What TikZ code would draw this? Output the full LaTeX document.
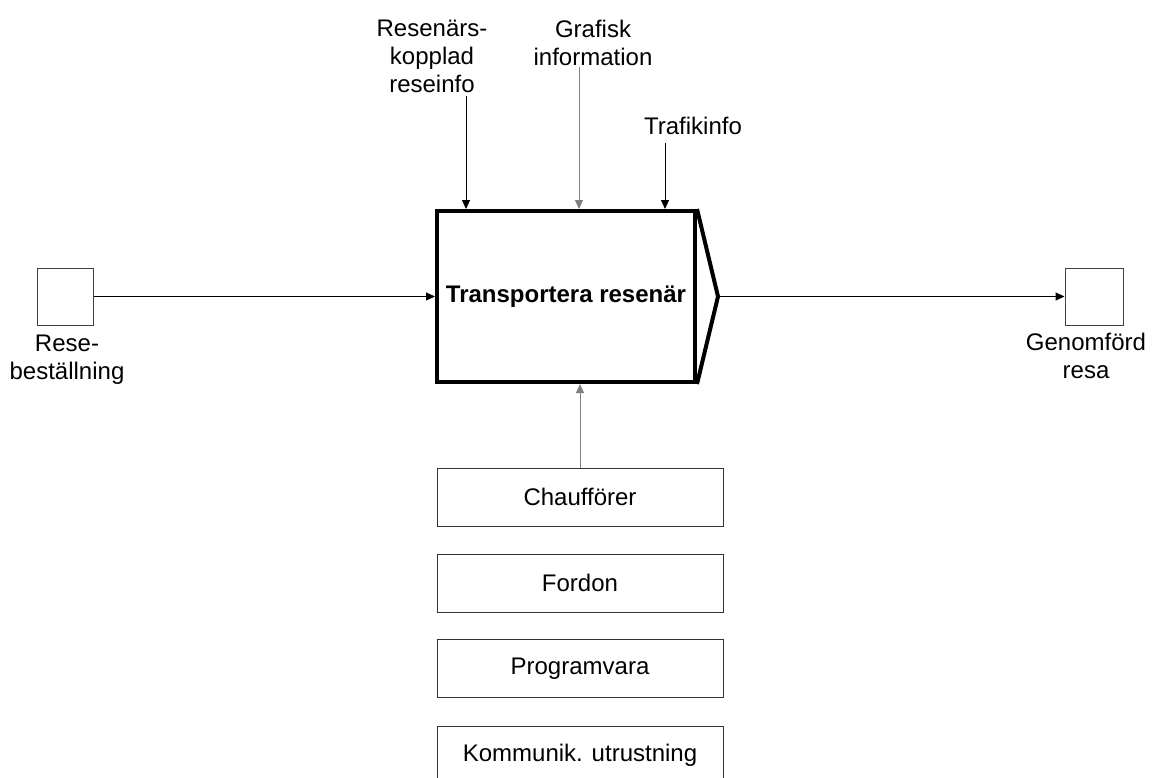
\documentclass[tikz,border=0pt]{standalone}
\usepackage{fontspec}
\setmainfont{Liberation Sans}
\usetikzlibrary{arrows.meta}
\begin{document}
\begin{tikzpicture}[x=0.75pt,y=-0.75pt,
  lbl/.style={font=\fontsize{18}{20.75}\selectfont, align=center, inner sep=0pt, anchor=north},
  flow/.style={line width=0.75pt, -{Triangle[length=6.75pt,width=6pt]}},
  grayflow/.style={flow, draw=black!50},
  port/.style={draw=black!75, line width=0.75pt, minimum width=42pt, minimum height=42.75pt, inner sep=0pt},
  resource/.style={draw=black!80, line width=0.75pt, minimum width=214.5pt, minimum height=43.5pt, inner sep=0pt, font=\fontsize{18}{20.5}\selectfont},
  activity/.style={draw, line width=3pt, fill=white, minimum width=193.5pt, minimum height=128.25pt, inner sep=0pt, font=\bfseries\fontsize{18}{20.5}\selectfont}]
\useasboundingbox (0,0) rectangle (1153,778);
\clip (0,0) rectangle (1153,778);

% activity box with its output chevron
\node[activity] (main) at (566,296.5) {Transportera resenär};
\coordinate (apex) at (718,296.5);
\draw[line width=3pt, line join=miter] (main.north east) -- (apex) -- (main.south east);

% input and output ports
\node[port] (order) at (65,296.5) {};
\node[port, minimum width=43.5pt] (done) at (1094,296.5) {};
\node[lbl] (orderlbl) at (67,335) {Rese-\\beställning};
\node[lbl] (donelbl) at (1086,333) {Genomförd\\resa};
\draw[flow] (order) -- (main);
\draw[flow] (apex) -- (done.west);

% controls from above
\node[lbl] (ctl1) at (432,20) {Resenärs-\\kopplad\\reseinfo};
\node[lbl] (ctl2) at (593,20) {Grafisk\\information};
\node[lbl] (ctl3) at (693,117) {Trafikinfo};
\coordinate (c1) at (466,96);
\coordinate (c2) at (579,67);
\coordinate (c3) at (665,143);
\draw[flow] (c1) -- (c1 |- main.north);
\draw[grayflow] (c2) -- (c2 |- main.north);
\draw[flow] (c3) -- (c3 |- main.north);

% resources (mechanisms)
\node[resource] (r1) at (580,497) {Chaufförer};
\node[resource] (r2) at (580,583) {Fordon};
\node[resource] (r3) at (580,668.5) {Programvara};
\node[resource] (r4) at (580,755) {Kommunik. utrustning};
\draw[grayflow] (r1.north) -- (r1.north |- main.south);
\end{tikzpicture}
\end{document}
